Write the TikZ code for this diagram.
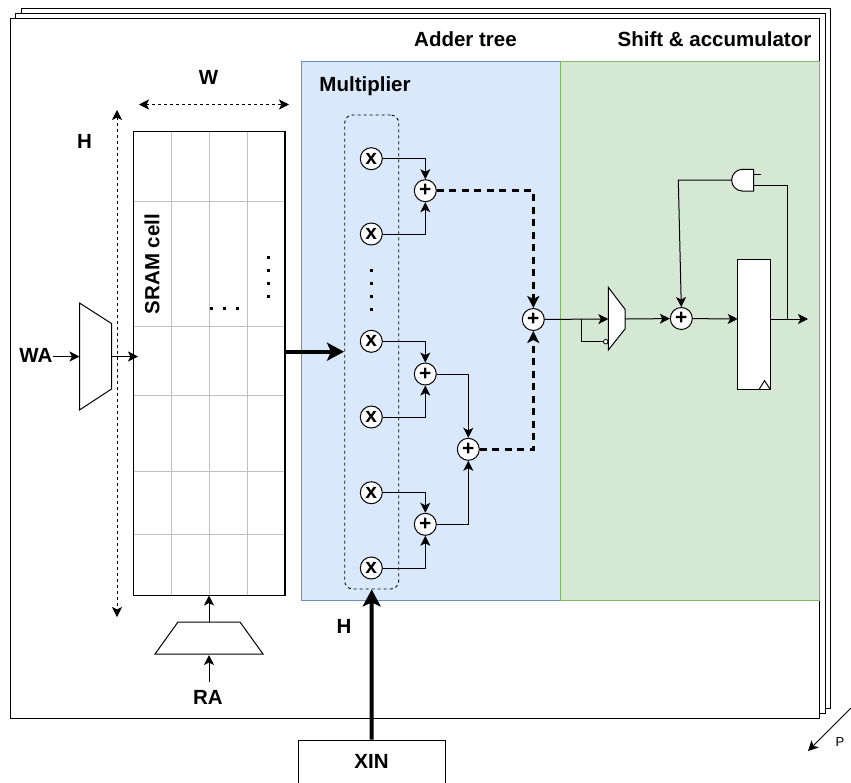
\documentclass[tikz,border=0pt]{standalone}
\usepackage{fontspec}
\setmainfont{Liberation Sans}
\usetikzlibrary{arrows.meta}
\definecolor{boxBlue}{HTML}{DAE8FC}
\definecolor{lineBlue}{HTML}{6C8EBF}
\definecolor{boxGreen}{HTML}{D5E8D4}
\definecolor{lineGreen}{HTML}{82B366}
\definecolor{gridGray}{HTML}{C0C0C0}
\tikzset{
  sheet/.style={draw, fill=white, line width=1pt},
  label/.style={font=\fontsize{20.5}{22}\selectfont\bfseries, inner sep=0pt},
  mulop/.style={circle, draw, fill=white, line width=1pt, minimum size=22pt, inner sep=0pt, font=\fontsize{21}{21}\selectfont\bfseries},
  conn/.style={line width=1pt, -{Stealth[length=10pt,width=10pt,inset=2.5pt]}},
  dashconn/.style={line width=2.6pt, dash pattern=on 7pt off 5.5pt, -{Stealth[length=12pt,width=12pt,inset=3pt]}},
  busconn/.style={line width=4pt, -{Stealth[length=17pt,width=18pt,inset=4pt]}},
  dimconn/.style={line width=0.9pt, dash pattern=on 3pt off 3pt, {Stealth[length=10pt,width=10pt,inset=2.5pt]}-{Stealth[length=10pt,width=10pt,inset=2.5pt]}}
}
\begin{document}
\begin{tikzpicture}[x=1pt,y=-1pt]
  \useasboundingbox (0,0) rectangle (851,782);

  % Stacked sheets
  \draw[sheet] (21,8) rectangle (830,708);
  \draw[sheet] (15.7,13) rectangle (825,713);
  \draw[sheet] (10.5,18) rectangle (819,718);

  % Multiplier and accumulator regions
  \draw[fill=boxBlue, draw=lineBlue, line width=0.8pt] (301.5,61) rectangle (560,600);
  \draw[fill=boxGreen, draw=lineGreen, line width=0.8pt] (560,61) rectangle (819,600);

  \node[label] (addertitle) at (465.5,39) {Adder tree};
  \node[label] (shifttitle) at (714.5,39) {Shift \& accumulator};
  \node[label] (multitle) at (365,86) {Multiplier};

  % SRAM array
  \node[draw, fill=white, line width=1pt, minimum width=151pt, minimum height=463.5pt, inner sep=0pt] (sram) at (209,363.25) {};
  \draw[gridGray, line width=1pt] (171,132) -- (171,594.5);
  \draw[gridGray, line width=1pt] (209,132) -- (209,594.5);
  \draw[gridGray, line width=1pt] (247,132) -- (247,594.5);
  \draw[gridGray, line width=1pt] (134,201) -- (284,201);
  \draw[gridGray, line width=1pt] (134,326.7) -- (284,326.7);
  \draw[gridGray, line width=1pt] (134,395.7) -- (284,395.7);
  \draw[gridGray, line width=1pt] (134,471) -- (284,471);
  \draw[gridGray, line width=1pt] (134,534.3) -- (284,534.3);
  \draw[line width=1pt] (sram.north west) rectangle (sram.south east);

  \node[label, rotate=90] (sramlabel) at (152,264) {SRAM cell};
  % Dots in the array
  \fill (209.5,306.5) rectangle (212.5,309.5);
  \fill (222.5,306.5) rectangle (225.5,309.5);
  \fill (235.5,306.5) rectangle (238.5,309.5);
  \fill (266.5,256) rectangle (269.5,259);
  \fill (266.5,269) rectangle (269.5,272);
  \fill (266.5,282) rectangle (269.5,285);
  \fill (266.5,295) rectangle (269.5,298);

  % Dimensions
  \coordinate (wleft) at (139,104.5);
  \coordinate (wright) at (289,104.5);
  \coordinate (htop) at (117,110);
  \coordinate (hbottom) at (117,617);
  \draw[dimconn] (wleft) -- (wright);
  \draw[dimconn] (htop) -- (hbottom);
  \node[label] (wlabel) at (208.5,77) {W};
  \node[label] (hlabel) at (84.5,141) {H};

  % Write decoder
  \draw[fill=white, line width=1pt] (79.5,303) -- (111.5,323.5) -- (111.5,389) -- (79.5,410) -- cycle;
  \node[label] (walabel) at (36,355.5) {WA};
  \coordinate (wain) at (79.5,356.5);
  \coordinate (waout) at (111.5,356.5);
  \coordinate (wasram) at (138,356.5);
  \draw[conn] (walabel.east |- wain) -- (wain);
  \draw[conn] (waout) -- (wasram);

  % Read decoder
  \draw[fill=white, line width=1pt] (178,622) -- (240,622) -- (263,654) -- (155,654) -- cycle;
  \coordinate (raout) at (209,622);
  \coordinate (rain) at (209,655);
  \coordinate (rastart) at (209,682);
  \node[label] (ralabel) at (208,697) {RA};
  \draw[conn] (raout) -- (sram.south);
  \draw[conn] (rastart) -- (rain);

  % Multipliers
  \node[draw, rounded corners=8pt, line width=0.9pt, dash pattern=on 3pt off 3pt, minimum width=54pt, minimum height=474pt, inner sep=0pt] (mulbox) at (371.7,352) {};
  \node[mulop] (mulA) at (371.3,158.7) {x};
  \node[mulop] (mulB) at (371.3,234) {x};
  \node[mulop] (mulC) at (371.3,341.3) {x};
  \node[mulop] (mulD) at (371.3,417) {x};
  \node[mulop] (mulE) at (371.3,492.7) {x};
  \node[mulop] (mulF) at (371.3,568) {x};
  \fill (369.8,269) rectangle (372.8,272);
  \fill (369.8,282) rectangle (372.8,285);
  \fill (369.8,295) rectangle (372.8,298);
  \fill (369.8,308) rectangle (372.8,311);

  % Adder tree
  \node[mulop] (addA) at (425.3,190.7) {+};
  \node[mulop] (addB) at (425.3,374) {+};
  \node[mulop] (addC) at (425.3,524.3) {+};
  \node[mulop] (addD) at (468.3,449.3) {+};
  \node[mulop] (addE) at (533.3,319.5) {+};

  \draw[conn] (mulA) -| (addA);
  \draw[conn] (mulB) -| (addA);
  \draw[conn] (mulC) -| (addB);
  \draw[conn] (mulD) -| (addB);
  \draw[conn] (mulE) -| (addC);
  \draw[conn] (mulF) -| (addC);
  \draw[conn] (addB) -| (addD);
  \draw[conn] (addC) -| (addD);
  \draw[dashconn] (addA) -| (addE);
  \draw[dashconn] (addD) -| (addE);

  % Bus arrows
  \coordinate (busstart) at (284.5,351.7);
  \coordinate (busend) at (344,351.7);
  \draw[busconn] (busstart) -- (busend);
  \node[draw, fill=white, line width=1pt, minimum width=147pt, minimum height=44pt, inner sep=0pt] (xin) at (371.5,762) {};
  \node[label] (xinlabel) at (371.5,761) {XIN};
  \draw[busconn] (xin.north) -- (mulbox.south);
  \node[label] (hbus) at (344,626) {H};

  % Accumulator mux
  \draw[fill=white, line width=1pt] (608.3,287.3) -- (625,309.3) -- (625,329) -- (608.3,350) -- cycle;
  \coordinate (muxin) at (608.3,319);
  \coordinate (muxout) at (625,319);
  \coordinate (muxbranch) at (581.7,319.3);
  \node[circle, draw, fill=white, line width=0.8pt, minimum size=4.6pt, inner sep=0pt] (muxsel) at (605.7,341.7) {};
  \draw[conn] (addE) -- (muxin);
  \draw[line width=1pt] (muxbranch) |- (muxsel);

  % Accumulator
  \node[mulop] (addF) at (681.3,318.5) {+};
  \node[draw, fill=white, line width=1pt, minimum width=32.6pt, minimum height=129.7pt, inner sep=0pt] (reg) at (754,324.2) {};
  \draw[line width=1pt] (759.3,389) -- (764.5,380.7) -- (770,389);
  \coordinate (regout) at (808,319);
  \coordinate (regbranch) at (787,319);
  \coordinate (regin) at (737.7,319);
  \draw[conn] (muxout) -- (addF);
  \draw[conn] (addF) -- (regin);
  \draw[conn] (regin -| reg.east) -- (regout);

  % Feedback gate
  \draw[fill=white, line width=1pt] (753.7,169.3) -- (742.5,169.3) arc (270:90:10.85) -- (753.7,191) -- cycle;
  \coordinate (gatein) at (753.7,185);
  \coordinate (gateout) at (731.7,180);
  \coordinate (gatecorner) at (678.3,180);
  \coordinate (gatestub) at (753.7,174.7);
  \draw[line width=1pt] (gatestub) -- ++(7,0);
  \draw[line width=1pt] (regbranch) |- (gatein);
  \draw[conn] (gateout) -- (gatecorner) -- (addF.north);

  % Sheet direction
  \coordinate (pstart) at (851,708);
  \coordinate (pend) at (808,751);
  \draw[conn] (pstart) -- (pend);
  \node[font=\fontsize{13}{13}\selectfont, inner sep=0pt] (plabel) at (840,742) {P};
\end{tikzpicture}
\end{document}
